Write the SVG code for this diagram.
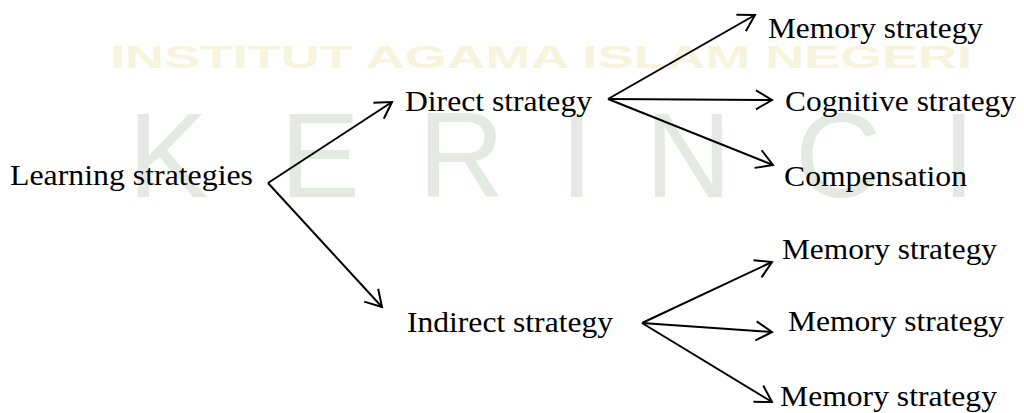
<svg xmlns="http://www.w3.org/2000/svg" width="1024" height="413" viewBox="0 0 1024 413">
<style>
.lbl{font-family:"Liberation Serif","Times New Roman",serif;font-size:30px;fill:#000}
.wm{font-family:"Liberation Sans",Arial,sans-serif}
.conn line{stroke:#000;stroke-width:2;fill:none}
</style>
<defs>
<marker id="ah" markerUnits="userSpaceOnUse" markerWidth="24" markerHeight="24" viewBox="-20 -12 24 24" refX="0" refY="0" orient="auto">
<path d="M-16,-9.5 L0,0 L-16,9.5" fill="none" stroke="#000" stroke-width="2" stroke-linejoin="miter"/>
</marker>
</defs>
<rect width="1024" height="413" fill="#fff"/>
<g id="watermark" class="wm">
<text x="110" y="68" font-size="32" font-weight="bold" fill="#f6f4dc" textLength="862" lengthAdjust="spacingAndGlyphs">INSTITUT AGAMA ISLAM NEGERI</text>
<g font-size="120" fill="#e4eae3">
<text x="128" y="197">K</text>
<text x="280" y="197">E</text>
<text x="418" y="197">R</text>
<text x="560" y="197">I</text>
<text x="645" y="197">N</text>
<text x="795" y="197">C</text>
<text x="942" y="197">I</text>
</g>
</g>
<g id="connectors" class="conn">
<line x1="268" y1="183" x2="392" y2="102" marker-end="url(#ah)"/>
<line x1="268" y1="183" x2="382" y2="307" marker-end="url(#ah)"/>
<line x1="608" y1="99" x2="755" y2="15" marker-end="url(#ah)"/>
<line x1="608" y1="99" x2="772" y2="100" marker-end="url(#ah)"/>
<line x1="608" y1="99" x2="773" y2="165" marker-end="url(#ah)"/>
<line x1="642" y1="323" x2="772" y2="262" marker-end="url(#ah)"/>
<line x1="642" y1="323" x2="772" y2="332" marker-end="url(#ah)"/>
<line x1="642" y1="323" x2="772" y2="402" marker-end="url(#ah)"/>
</g>
<g id="n-learning"><text class="lbl" x="10" y="185" textLength="243" lengthAdjust="spacingAndGlyphs">Learning strategies</text></g>
<g id="n-direct"><text class="lbl" x="405" y="111" textLength="187" lengthAdjust="spacingAndGlyphs">Direct strategy</text></g>
<g id="n-indirect"><text class="lbl" x="407" y="332" textLength="206" lengthAdjust="spacingAndGlyphs">Indirect strategy</text></g>
<g id="n-memory1"><text class="lbl" x="768" y="38" textLength="215" lengthAdjust="spacingAndGlyphs">Memory strategy</text></g>
<g id="n-cognitive"><text class="lbl" x="785" y="111" textLength="231" lengthAdjust="spacingAndGlyphs">Cognitive strategy</text></g>
<g id="n-compensation"><text class="lbl" x="784" y="186" textLength="183" lengthAdjust="spacingAndGlyphs">Compensation</text></g>
<g id="n-memory2"><text class="lbl" x="782" y="259" textLength="215" lengthAdjust="spacingAndGlyphs">Memory strategy</text></g>
<g id="n-memory3"><text class="lbl" x="788" y="331" textLength="216" lengthAdjust="spacingAndGlyphs">Memory strategy</text></g>
<g id="n-memory4"><text class="lbl" x="780" y="406" textLength="217" lengthAdjust="spacingAndGlyphs">Memory strategy</text></g>
</svg>
